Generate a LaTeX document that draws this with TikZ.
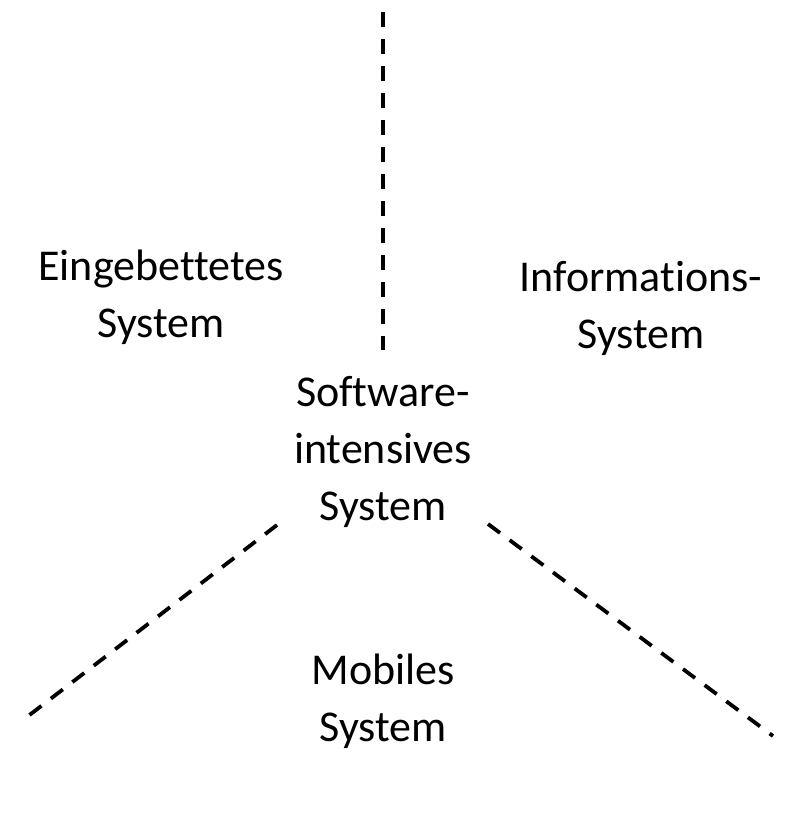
\documentclass[tikz,border=0pt]{standalone}
\usepackage{fontspec}
\setmainfont{Carlito}[Ligatures=NoCommon]
\usetikzlibrary{positioning}

\tikzset{
	label/.style={align=center, font=\fontsize{44}{57}\selectfont},
	border/.style={line width=3.8pt, dash pattern=on 15pt off 12pt}
}

\begin{document}
\begin{tikzpicture}[x=1pt, y=-1pt]
			\useasboundingbox (0, 0) rectangle (786, 820);
			\node[label] (core) at (383, 452) {Software-\\intensives\\System};
			\node[label] (embedded) at (161, 297) {Eingebettetes\\System};
			\node[label] (info) at (641, 308) {Informations-\\System};
			\node[label] (mobile) at (383, 701) {Mobiles\\System};
			\coordinate (top) at (383, 12);
			\coordinate (topend) at (383, 350);
			\coordinate (leftin) at (277, 525);
			\coordinate (leftout) at (23, 720);
			\coordinate (rightin) at (488, 524);
			\coordinate (rightout) at (773, 736);
			\draw[border] (top) -- (topend);
			\draw[border] (leftin) -- (leftout);
			\draw[border] (rightin) -- (rightout);
		\end{tikzpicture}
\end{document}
